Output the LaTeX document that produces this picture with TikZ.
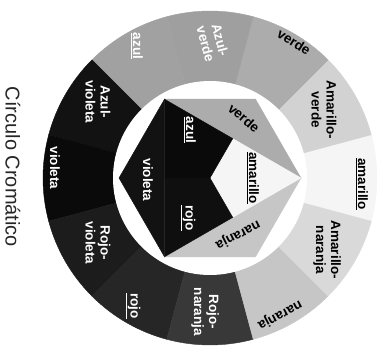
\documentclass[tikz,border=0pt]{standalone}
\usepackage{fontspec}
\setmainfont{Liberation Sans}
\usepackage{xcolor}
\usepackage{tikz}
\usetikzlibrary{positioning}

\begin{document}
\begin{tikzpicture}[x=1pt, y=1pt,
    lbl/.style={font=\fontsize{13.5}{15}\selectfont\bfseries, align=center, rotate=-90, inner sep=0pt},
    lblw/.style={lbl, text=white},
    every path/.style={line width=0.4pt}]
    \useasboundingbox (-210,-172) rectangle (170,178);

    % Outer ring
    \filldraw[gray!8]  (0,0) -- (-15:167pt) arc (-15:15:167pt) -- cycle;
    \filldraw[gray!35] (0,0) -- (15:167pt) arc (15:45:167pt) -- cycle;
    \filldraw[gray!65] (0,0) -- (45:167pt) arc (45:75:167pt) -- cycle;
    \filldraw[gray!75] (0,0) -- (75:167pt) arc (75:105:167pt) -- cycle;
    \filldraw[gray!74] (0,0) -- (105:167pt) arc (105:135:167pt) -- cycle;
    \filldraw[black!93] (0,0) -- (135:167pt) arc (135:165:167pt) -- cycle;
    \filldraw[black!96] (0,0) -- (165:167pt) arc (165:195:167pt) -- cycle;
    \filldraw[black!89] (0,0) -- (195:167pt) arc (195:225:167pt) -- cycle;
    \filldraw[black!85] (0,0) -- (225:167pt) arc (225:255:167pt) -- cycle;
    \filldraw[black!78] (0,0) -- (255:167pt) arc (255:285:167pt) -- cycle;
    \filldraw[gray!45] (0,0) -- (285:167pt) arc (285:315:167pt) -- cycle;
    \filldraw[gray!30] (0,0) -- (315:167pt) arc (315:345:167pt) -- cycle;

    % White gap
    \fill[white] (0,0) circle (97pt);

    % Hexagon: secondaries
    \filldraw[gray!65]  (0:91pt) -- (60:91pt) -- (120:91pt) -- cycle;
    \filldraw[black!93] (120:91pt) -- (180:91pt) -- (240:91pt) -- cycle;
    \filldraw[gray!45]  (240:91pt) -- (300:91pt) -- (0:91pt) -- cycle;

    % Hexagon: primaries
    \filldraw[gray!8]   (0,0) -- (60:45.5pt) -- (0:91pt) -- (300:45.5pt) -- cycle;
    \filldraw[black!96] (0,0) -- (60:45.5pt) -- (120:91pt) -- (180:45.5pt) -- cycle;
    \filldraw[black!94] (0,0) -- (180:45.5pt) -- (240:91pt) -- (300:45.5pt) -- cycle;

    % Ring labels
    \node[lbl] (amarillo) at (152,-6) {\underline{amarillo}};
    \node[lbl] (amarilloverde) at (114,68) {Amarillo-\\verde};
    \node[lbl, rotate=58] (verde) at (84,136) {verde};
    \node[lblw, rotate=15] (azulverde) at (3,136) {Azul-\\verde};
    \node[lblw] (azul) at (-73,132) {\underline{azul}};
    \node[lblw] (azulvioleta) at (-112,76) {Azul-\\violeta};
    \node[lblw] (violeta) at (-155,10) {violeta};
    \node[lblw] (rojovioleta) at (-112,-65) {Rojo-\\violeta};
    \node[lblw] (rojo) at (-77,-128) {\underline{rojo}};
    \node[lblw] (rojonaranja) at (-5,-134) {Rojo-\\naranja};
    \node[lbl, rotate=-62] (naranja) at (70,-137) {naranja};
    \node[lbl] (amarillonaranja) at (117,-72) {Amarillo-\\naranja};

    % Hexagon labels
    \node[lbl] (inamarillo) at (43,0) {\underline{amarillo}};
    \node[lbl, rotate=50] (inverde) at (34,60) {verde};
    \node[lblw] (inazul) at (-20,48) {\underline{azul}};
    \node[lblw] (invioleta) at (-62,-2) {violeta};
    \node[lblw] (inrojo) at (-22,-40) {\underline{rojo}};
    \node[lbl, rotate=-63] (innaranja) at (28,-57) {naranja};

    % Title
    \node[rotate=-90, font=\fontsize{20}{20}\selectfont, text=black!85] (titulo) at (-197,11) {Círculo Cromático};
\end{tikzpicture}
\end{document}
